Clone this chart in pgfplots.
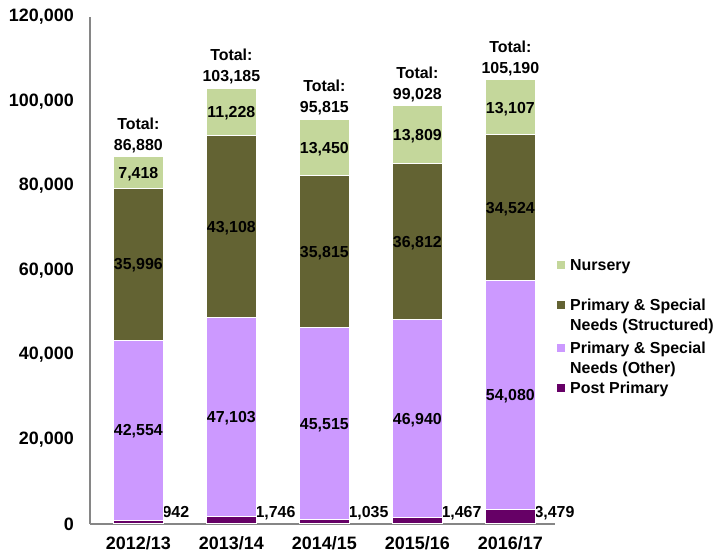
\documentclass[border=0pt]{standalone}
\usepackage{pgfplots}
\pgfplotsset{compat=1.18}
\usepackage{fontspec}
\setmainfont{Liberation Sans}

\definecolor{nursery}{HTML}{C4D79B}
\definecolor{structured}{HTML}{636333}
\definecolor{other}{HTML}{CC99FF}
\definecolor{postprim}{HTML}{660066}
\definecolor{axisgrey}{HTML}{868686}

\tikzset{
  seg/.style={font=\fontsize{16}{19}\selectfont\bfseries, anchor=base, inner sep=0pt, yshift=-5.8bp},
  leg/.style={font=\fontsize{16}{19}\selectfont\bfseries, anchor=base west, inner sep=0pt},
}

% named point in the middle of a segment: name, x, middle of the segment
\newcommand\segpt[3]{\coordinate (#1) at (axis cs:#2,#3);}
% total above a bar: x, total, text
\newcommand\totlabel[3]{%
  \node[seg, yshift=12bp] at (axis cs:#1,#2) {#3};
  \node[seg, yshift=33bp] at (axis cs:#1,#2) {Total:};}
% post primary value to the right of the bar
\newcommand\pplabel[2]{\node[seg, anchor=base west, xshift=24bp, yshift=12bp] at (axis cs:#1,0) {#2};}

\begin{document}
\begin{tikzpicture}[x=1bp,y=1bp]
\useasboundingbox (-90,-32) rectangle (630,524);
\begin{axis}[
  at={(0,0)}, anchor=south west,
  scale only axis,
  width=465bp, height=507bp,
  ybar stacked, bar width=50bp,
  xmin=-0.52, xmax=4.48,
  ymin=0, ymax=120000,
  xtick=data,
  xticklabels={2012/13,2013/14,2014/15,2015/16,2016/17},
  ytick={0,20000,40000,60000,80000,100000,120000},
  scaled y ticks=false,
  axis x line*=bottom, axis y line*=left,
  axis line style={-, draw=axisgrey, line width=1.2bp},
  major tick length=0pt,
  /pgf/number format/fixed,
  /pgf/number format/1000 sep={,},
  /pgf/number format/assume math mode=true,
  yticklabel style={font=\fontsize{18}{21}\selectfont\bfseries, anchor=east, inner sep=0pt, xshift=-16bp},
  xticklabel style={font=\fontsize{18}{21}\selectfont\bfseries, anchor=base, inner sep=0pt, yshift=-25.5bp},
  clip=false,
]
\addplot[fill=postprim, draw=white, line width=1bp] coordinates {(0,942) (1,1746) (2,1035) (3,1467) (4,3479)};
\addplot[fill=other, draw=white, line width=1bp] coordinates {(0,42554) (1,47103) (2,45515) (3,46940) (4,54080)};
\addplot[fill=structured, draw=white, line width=1bp] coordinates {(0,35996) (1,43108) (2,35815) (3,36812) (4,34524)};
\addplot[fill=nursery, draw=white, line width=1bp] coordinates {(0,7418) (1,11228) (2,13450) (3,13809) (4,13107)};

\segpt{o0}{0}{22219} \segpt{s0}{0}{61494} \segpt{n0}{0}{83201}
\segpt{o1}{1}{25297} \segpt{s1}{1}{70403} \segpt{n1}{1}{97571}
\segpt{o2}{2}{23792} \segpt{s2}{2}{64457} \segpt{n2}{2}{89090}
\segpt{o3}{3}{24937} \segpt{s3}{3}{66813} \segpt{n3}{3}{92123}
\segpt{o4}{4}{30519} \segpt{s4}{4}{74821} \segpt{n4}{4}{98636}

\totlabel{0}{86880}{86,880}
\totlabel{1}{103185}{103,185}
\totlabel{2}{95815}{95,815}
\totlabel{3}{99028}{99,028}
\totlabel{4}{105190}{105,190}
\pplabel{0}{942}
\pplabel{1}{1,746}
\pplabel{2}{1,035}
\pplabel{3}{1,467}
\pplabel{4}{3,479}
\end{axis}

% segment labels, drawn over the bars
\node[seg] at (o0) {42,554}; \node[seg] at (s0) {35,996}; \node[seg] at (n0) {7,418};
\node[seg] at (o1) {47,103}; \node[seg] at (s1) {43,108}; \node[seg] at (n1) {11,228};
\node[seg] at (o2) {45,515}; \node[seg] at (s2) {35,815}; \node[seg] at (n2) {13,450};
\node[seg] at (o3) {46,940}; \node[seg] at (s3) {36,812}; \node[seg] at (n3) {13,809};
\node[seg] at (o4) {54,080}; \node[seg] at (s4) {34,524}; \node[seg] at (n4) {13,107};

% legend
\fill[nursery] (467,255) rectangle ++(8,8);
\node[leg] at (480,253.2) {Nursery};
\fill[structured] (467,215) rectangle ++(8,8);
\node[leg] at (480,213.2) {Primary \& Special};
\node[leg] at (480,193.2) {Needs (Structured)};
\fill[other] (467,172) rectangle ++(8,8);
\node[leg] at (480,170.2) {Primary \& Special};
\node[leg] at (480,150.2) {Needs (Other)};
\fill[postprim] (467,132) rectangle ++(8,8);
\node[leg] at (480,130.2) {Post Primary};
\end{tikzpicture}
\end{document}
